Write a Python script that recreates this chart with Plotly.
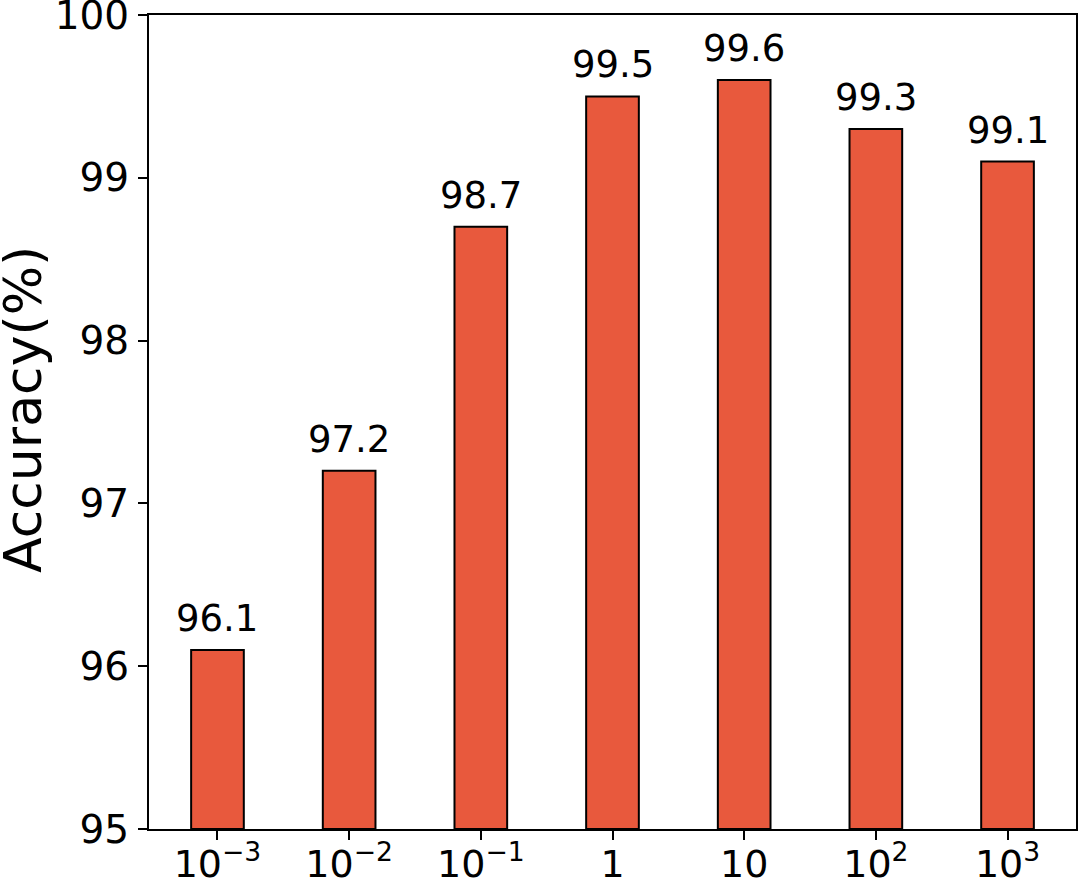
import plotly.graph_objects as go

categories = ["10<sup>−3</sup>", "10<sup>−2</sup>", "10<sup>−1</sup>", "1", "10", "10<sup>2</sup>", "10<sup>3</sup>"]
accuracy = [96.1, 97.2, 98.7, 99.5, 99.6, 99.3, 99.1]
y_ticks = [95, 96, 97, 98, 99, 100]

x_idx = list(range(len(categories)))
FONT = "DejaVu Sans"

fig = go.Figure()
fig.add_trace(go.Bar(
    x=x_idx, y=[a - 95 for a in accuracy], base=95,
    width=0.4,
    marker=dict(color="#E8593D", line=dict(color="black", width=2)),
    hoverinfo="skip",
))

for xi, a in zip(x_idx, accuracy):
    fig.add_annotation(
        x=xi, y=a, xref="x", yref="y",
        text=f"{a:.1f}", showarrow=False,
        yanchor="bottom", yshift=8,
        font=dict(family=FONT, size=37, color="black"),
    )

# y-axis title
fig.add_annotation(
    x=0, y=0.5, xref="paper", yref="paper",
    text="Accuracy(%)", textangle=-90, showarrow=False,
    xanchor="center", yanchor="middle", xshift=-126, yshift=12,
    font=dict(family=FONT, size=52, color="black"),
)

fig.update_layout(
    width=1078, height=887,
    margin=dict(l=149, r=2, t=15, b=58, autoexpand=False),
    plot_bgcolor="white", paper_bgcolor="white",
    showlegend=False,
    font=dict(family=FONT, color="black"),
)
fig.update_xaxes(
    range=[-0.52, 6.52],
    tickmode="array", tickvals=x_idx, ticktext=categories,
    tickfont=dict(family=FONT, size=38),
    ticks="outside", ticklen=9, tickwidth=2, tickcolor="black",
    ticklabelstandoff=-9, ticklabeloverflow="allow",
    showline=True, linecolor="black", linewidth=2, mirror=True,
    showgrid=False, zeroline=False, automargin=False,
)
fig.update_yaxes(
    range=[95, 100],
    tickmode="array", tickvals=y_ticks, ticktext=[str(t) for t in y_ticks],
    tickfont=dict(family=FONT, size=39),
    ticks="outside", ticklen=9, tickwidth=2, tickcolor="black",
    ticklabelstandoff=1, ticklabeloverflow="allow",
    showline=True, linecolor="black", linewidth=2, mirror=True,
    showgrid=False, zeroline=False, automargin=False,
)

fig.write_html(
    "out.html",
    config={"displayModeBar": False},
    post_script="document.body.style.margin='0px';document.body.style.overflow='hidden';",
)
